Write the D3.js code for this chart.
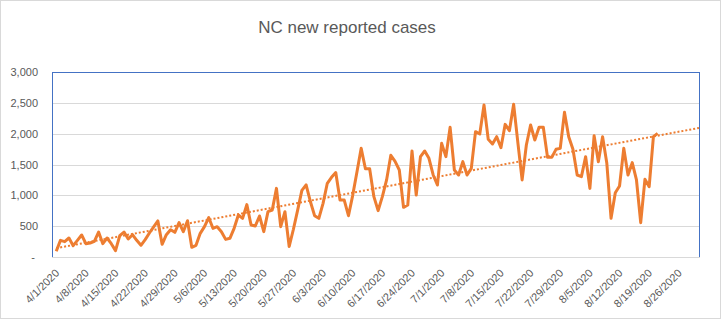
<!DOCTYPE html>
<html><head><meta charset="utf-8">
<script src="https://cdn.jsdelivr.net/npm/d3@7"></script>
<style>
html,body{margin:0;padding:0;background:#fff;}
text{font-family:"Liberation Sans",Arial,sans-serif;fill:#595959;}
</style></head>
<body><svg id="c" width="723" height="321"></svg>
<script>
const title = "NC new reported cases";
const startDate = "2020-04-01";
const newCases = [
  92,270,249,308,184,270,357,216,227,254,
  405,216,308,216,103,346,405,292,362,270,
  190,281,389,487,585,205,362,443,400,557,
  411,589,157,189,384,492,640,465,492,411,
  286,303,465,681,627,850,519,503,665,411,
  735,762,1113,492,735,170,450,760,1080,1170,
  900,670,627,870,1195,1292,1370,924,924,670,
  1000,1380,1762,1430,1430,978,751,978,1250,1650,
  1550,1411,805,843,1719,1005,1627,1719,1600,1330,
  1167,1843,1627,2103,1411,1330,1546,1330,1438,2032,
  1995,2465,1908,1832,1951,1773,2151,2049,2476,1850,
  1250,1816,2140,1897,2103,2103,1616,1616,1746,1762,
  2346,1951,1746,1330,1303,1627,1113,1967,1546,1951,
  1519,627,1043,1151,1762,1330,1530,1249,557,1259,
  1141,1951,2005
];
const xTickLabels = ["4/1/2020","4/8/2020","4/15/2020","4/22/2020","4/29/2020","5/6/2020","5/13/2020","5/20/2020","5/27/2020","6/3/2020","6/10/2020","6/17/2020","6/24/2020","7/1/2020","7/8/2020","7/15/2020","7/22/2020","7/29/2020","8/5/2020","8/12/2020","8/19/2020","8/26/2020"];
const yTicks = [0,500,1000,1500,2000,2500,3000];
const axisStart = "2020-03-31T12:00";
const axisEnd = "2020-08-31T12:00";

const parse = d3.timeParse("%Y-%m-%d");
const parseT = d3.timeParse("%Y-%m-%dT%H:%M");
const parseLbl = d3.timeParse("%m/%d/%Y");
const d0 = parse(startDate);
const data = newCases.map((v,i)=>({date:d3.timeDay.offset(d0,i), value:v}));

const svg = d3.select("#c");
const L=52, R=700, T=72, B=257;
const x = d3.scaleTime().domain([parseT(axisStart), parseT(axisEnd)]).range([L,R]);
const y = d3.scaleLinear().domain([0,3000]).range([B,T]);

// chart border
svg.append("rect").attr("x",0.5).attr("y",0.5).attr("width",720).attr("height",318)
  .attr("fill","#fff").attr("stroke","#d9d9d9");

// title
svg.append("text").attr("x",347).attr("y",33).attr("text-anchor","middle")
  .style("font-size","17px").text(title);

// plot border
svg.append("rect").attr("x",L+0.5).attr("y",T+0.5).attr("width",R-L-1).attr("height",B-T)
  .attr("fill","none").attr("stroke","#4472c4").attr("stroke-width",1);

// gridlines
svg.append("g").selectAll("line").data(yTicks.filter(d=>d>0&&d<3000)).join("line")
  .attr("x1",L+1).attr("x2",R-1).attr("y1",d=>Math.round(y(d))+0.5).attr("y2",d=>Math.round(y(d))+0.5)
  .attr("stroke","#d9d9d9").attr("stroke-width",1);
svg.append("line").attr("x1",L).attr("x2",R).attr("y1",B+0.5).attr("y2",B+0.5)
  .attr("stroke","#d9d9d9").attr("stroke-width",1);

// y axis
const yAxis = d3.axisLeft(y).tickValues(yTicks).tickSize(0).tickPadding(0)
  .tickFormat(d=> d===0 ? "-" : d3.format(",")(d));
const gy = svg.append("g").attr("transform",`translate(${L-14},0)`).call(yAxis);
gy.select(".domain").remove();
gy.selectAll("text").style("font-size","11px").style("font-family","'Liberation Sans',Arial,sans-serif").attr("fill","#595959")
  .attr("dx", d=> d===0 ? -3 : 0);

// x axis labels
const xAxis = d3.axisBottom(x).tickValues(xTickLabels.map(s=>parseLbl(s)))
  .tickSize(0).tickFormat((d,i)=>xTickLabels[i]);
const gx = svg.append("g").attr("transform",`translate(0,${B})`).call(xAxis);
gx.select(".domain").remove();
gx.selectAll(".tick").attr("transform", d=>`translate(${x(d3.timeHour.offset(d,12))},0)`);
gx.selectAll("text").style("font-size","11px").style("font-family","'Liberation Sans',Arial,sans-serif").attr("fill","#595959")
  .attr("text-anchor","end").attr("x",0).attr("y",0).attr("dy","0.35em")
  .attr("transform","translate(1,14) rotate(-45)");

// trendline (least squares)
const xs = data.map((d,i)=>i+1), ys = data.map(d=>d.value);
const mx=d3.mean(xs), my=d3.mean(ys);
const slope = d3.sum(xs.map((v,i)=>(v-mx)*(ys[i]-my)))/d3.sum(xs.map(v=>(v-mx)*(v-mx)));
const icpt = my - slope*mx;
const endIdx = d3.timeDay.count(d0, parseT(axisEnd)) + 0.5;
const trend = [{date:d0, value:icpt+slope*1},{date:d3.timeHour.offset(d0,Math.round(endIdx*24)), value:icpt+slope*(endIdx+1)}];

const line = d3.line().x(d=>x(d3.timeHour.offset(d.date,12))).y(d=>y(d.value));
svg.append("path").datum(trend).attr("d", d3.line().x(d=>Math.min(R-1,x(d3.timeHour.offset(d.date,12)))).y(d=>y(d.value)))
  .attr("fill","none").attr("stroke","#ed7d31").attr("stroke-width",2).attr("stroke-dasharray","2 2");

svg.append("path").datum(data).attr("d",line).attr("fill","none")
  .attr("stroke","#ed7d31").attr("stroke-width",3).attr("stroke-linejoin","round");
</script></body></html>
